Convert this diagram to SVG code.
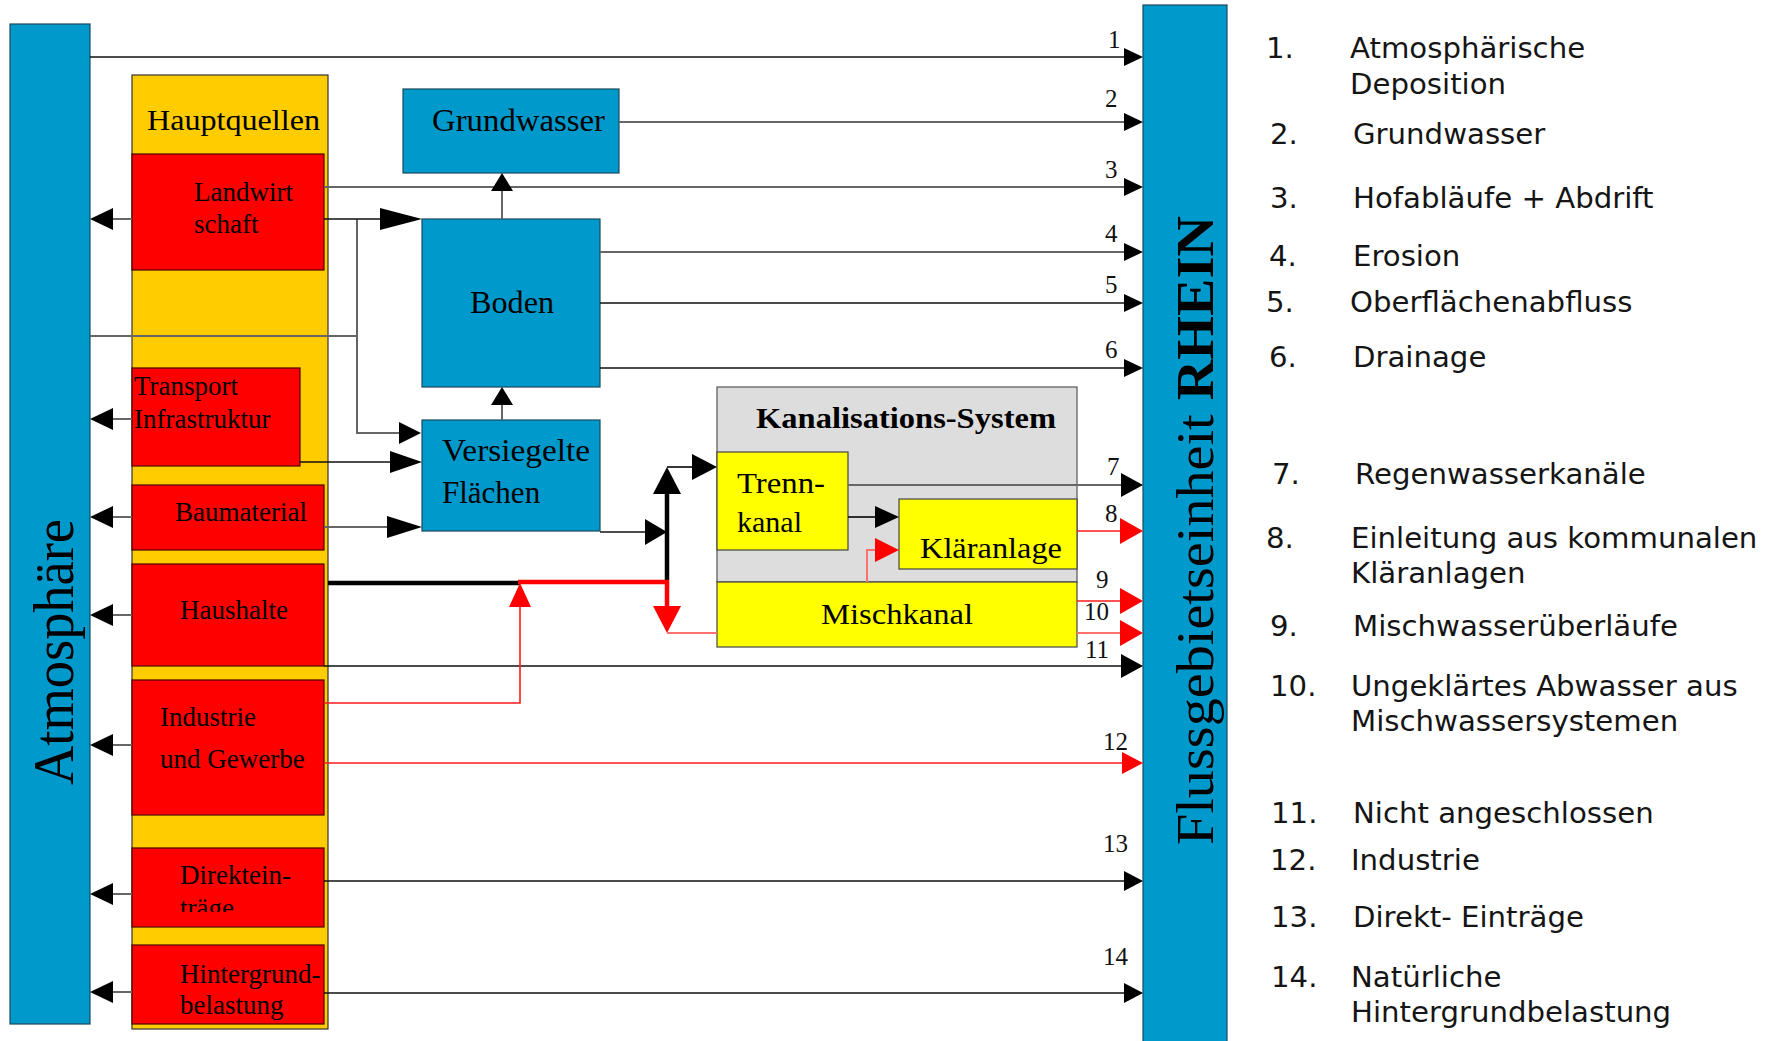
<svg xmlns="http://www.w3.org/2000/svg" width="1771" height="1041" viewBox="0 0 1771 1041">
<style>
.blue{fill:#0099CC;stroke:#1a4a5a;stroke-width:1.2}
.red{fill:#FF0000;stroke:#4a0000;stroke-width:1.2}
.gold{fill:#FFCC00;stroke:#333;stroke-width:1.2}
.yel{fill:#FFFF00;stroke:#444;stroke-width:1.2}
.gray{fill:#DDDDDD;stroke:#555;stroke-width:1.2}
.t{font-family:"Liberation Serif","Times New Roman",serif;fill:#000}
.s27{font-size:27px}
.s30{font-size:30px}
.s31{font-size:31px}
.num{font-family:"Liberation Serif","Times New Roman",serif;font-size:25px;fill:#111}
.lg{font-family:"DejaVu Sans",Verdana,sans-serif;font-size:29.2px;fill:#151515}
.ln{fill:none;stroke:#111;stroke-width:1.7}
.lg2{fill:none;stroke:#666;stroke-width:2}
.lr{fill:none;stroke:#FF1A1A;stroke-width:1.6}
.lr2{fill:none;stroke:#FF7070;stroke-width:2}
.thk{fill:none;stroke:#000;stroke-width:4.5}
.thr{fill:none;stroke:#FF0000;stroke-width:4.5}
.ah{fill:#000}
.ahr{fill:#FF0000}
</style>
<defs>
<clipPath id="clipDir"><rect x="132" y="848" width="192" height="64"/></clipPath>
</defs>
<rect width="1771" height="1041" fill="#fff"/>

<g id="atmosphaere">
<rect class="blue" x="10" y="24" width="80" height="1000"/>
<text class="t" font-size="56" transform="translate(73,785) rotate(-90)" textLength="266" lengthAdjust="spacingAndGlyphs">Atmosphäre</text>
</g>

<g id="rhein">
<rect class="blue" x="1143" y="5" width="84" height="1040"/>
<text class="t" font-size="52" transform="translate(1213,845) rotate(-90)" textLength="629" lengthAdjust="spacingAndGlyphs">Flussgebietseinheit <tspan font-weight="bold">RHEIN</tspan></text>
</g>

<g id="hauptquellen">
<rect class="gold" x="132" y="75" width="196" height="954"/>
<text class="t s30" x="147" y="130" textLength="173" lengthAdjust="spacingAndGlyphs">Hauptquellen</text>
</g>

<g id="landwirtschaft">
<rect class="red" x="132" y="154" width="192" height="116"/>
<text class="t s27" x="194" y="201">Landwirt</text>
<text class="t s27" x="194" y="233">schaft</text>
</g>

<g id="transport">
<rect class="red" x="132" y="368" width="168" height="98"/>
<text class="t s27" x="134" y="395">Transport</text>
<text class="t s27" x="134" y="428">Infrastruktur</text>
</g>

<g id="baumaterial">
<rect class="red" x="132" y="485" width="192" height="65"/>
<text class="t s27" x="175" y="521">Baumaterial</text>
</g>

<g id="haushalte">
<rect class="red" x="132" y="564" width="192" height="102"/>
<text class="t s27" x="180" y="619">Haushalte</text>
</g>

<g id="industrie">
<rect class="red" x="132" y="680" width="192" height="135"/>
<text class="t s27" x="160" y="726">Industrie</text>
<text class="t s27" x="160" y="768">und Gewerbe</text>
</g>

<g id="direkteintraege">
<rect class="red" x="132" y="848" width="192" height="79"/>
<text class="t s27" x="180" y="884">Direktein-</text>
<text class="t s27" x="180" y="917" clip-path="url(#clipDir)">träge</text>
</g>

<g id="hintergrund">
<rect class="red" x="132" y="945" width="192" height="79"/>
<text class="t s27" x="180" y="983">Hintergrund-</text>
<text class="t s27" x="180" y="1014">belastung</text>
</g>

<g id="grundwasser">
<rect class="blue" x="403" y="89" width="216" height="84"/>
<text class="t s31" x="432" y="131" textLength="173" lengthAdjust="spacingAndGlyphs">Grundwasser</text>
</g>

<g id="boden">
<rect class="blue" x="422" y="219" width="178" height="168"/>
<text class="t s31" x="470" y="313" textLength="84" lengthAdjust="spacingAndGlyphs">Boden</text>
</g>

<g id="versiegelte">
<rect class="blue" x="422" y="420" width="178" height="111"/>
<text class="t s31" x="442" y="461" textLength="148" lengthAdjust="spacingAndGlyphs">Versiegelte</text>
<text class="t s31" x="442" y="503">Flächen</text>
</g>

<g id="kanalisation">
<rect class="gray" x="717" y="387" width="360" height="195"/>
<text class="t s30" font-weight="bold" x="756" y="428" textLength="300" lengthAdjust="spacingAndGlyphs">Kanalisations-System</text>
</g>

<g id="trennkanal">
<rect class="yel" x="717" y="452" width="131" height="98"/>
<text class="t s30" x="737" y="493" textLength="88" lengthAdjust="spacingAndGlyphs">Trenn-</text>
<text class="t s30" x="737" y="532">kanal</text>
</g>

<g id="klaeranlage">
<rect class="yel" x="899" y="499" width="178" height="70"/>
<text class="t s30" x="920" y="558" textLength="142" lengthAdjust="spacingAndGlyphs">Kläranlage</text>
</g>

<g id="mischkanal">
<rect class="yel" x="717" y="582" width="360" height="65"/>
<text class="t s30" x="821" y="624" textLength="152" lengthAdjust="spacingAndGlyphs">Mischkanal</text>
</g>

<g id="connectors">
<path class="lg2" d="M113,219H132M113,419H132M113,517H132M113,615H132M113,745H132M113,894H132M113,992H132"/>
<polygon class="ah" points="90,219 113,208 113,230"/>
<polygon class="ah" points="90,419 113,408 113,430"/>
<polygon class="ah" points="90,517 113,506 113,528"/>
<polygon class="ah" points="90,615 113,604 113,626"/>
<polygon class="ah" points="90,745 113,734 113,756"/>
<polygon class="ah" points="90,894 113,883 113,905"/>
<polygon class="ah" points="90,992 113,981 113,1003"/>

<path class="ln" d="M90,57H1124"/>
<path class="lg2" d="M619,122H1124M324,187H1124M600,252H1124"/>
<path class="ln" d="M600,303H1124M600,368H1124"/>
<polygon class="ah" points="1143,57 1124,48 1124,66"/>
<polygon class="ah" points="1143,122 1124,113 1124,131"/>
<polygon class="ah" points="1143,187 1124,178 1124,196"/>
<polygon class="ah" points="1143,252 1124,243 1124,261"/>
<polygon class="ah" points="1143,303 1124,294 1124,312"/>
<polygon class="ah" points="1143,368 1124,359 1124,377"/>

<path class="lg2" d="M848,485H1121"/>
<polygon class="ah" points="1143,485 1121,473 1121,497"/>
<path class="lr" d="M1077,531H1121M1077,601H1121"/>
<path class="lr2" d="M1077,633H1121"/>
<polygon class="ahr" points="1143,531 1120,518 1120,544"/>
<polygon class="ahr" points="1143,601 1120,588 1120,614"/>
<polygon class="ahr" points="1143,633 1120,620 1120,646"/>
<path class="ln" d="M324,666H1121"/>
<polygon class="ah" points="1143,666 1121,654 1121,678"/>

<path class="lr" d="M324,763H1122"/>
<polygon class="ahr" points="1143,763 1122,752 1122,774"/>
<path class="ln" d="M324,881H1124M324,993H1124"/>
<polygon class="ah" points="1143,881 1124,871 1124,891"/>
<polygon class="ah" points="1143,993 1124,983 1124,1003"/>

<path class="lg2" d="M90,336H357"/>
<path class="lg2" d="M357,219V433H399"/>
<polygon class="ah" points="421,433 399,422 399,444"/>
<path class="ln" d="M324,219H380"/>
<polygon class="ah" points="422,219 380,208 380,230"/>
<path class="lg2" d="M502,219V191"/>
<polygon class="ah" points="502,173 491,191 513,191"/>
<path class="lg2" d="M502,420V405"/>
<polygon class="ah" points="502,387 491,405 513,405"/>
<path class="ln" d="M300,462H390"/>
<polygon class="ah" points="422,462 390,451 390,473"/>
<path class="lg2" d="M324,527H387"/>
<polygon class="ah" points="422,527 387,516 387,538"/>
<path class="ln" d="M600,532H645"/>
<polygon class="ah" points="667,532 645,519 645,545"/>
<path class="thk" d="M667,580V494"/>
<polygon class="ah" points="667,467 653,494 681,494"/>
<path class="ln" d="M667,467H692"/>
<polygon class="ah" points="717,467 692,454 692,480"/>
<path class="ln" d="M848,517H875"/>
<polygon class="ah" points="899,517 875,506 875,528"/>
<path class="lr2" d="M867,582V550H875"/>
<polygon class="ahr" points="899,550 875,538 875,562"/>
<path class="thk" d="M328,583H520"/>
<path class="thr" d="M518,582H667V606"/>
<polygon class="ahr" points="667,633 653,606 681,606"/>
<path class="lr2" d="M667,633H717"/>
<path class="lr" d="M324,703H520V607"/>
<polygon class="ahr" points="520,583 509,607 531,607"/>
</g>

<g id="flow-numbers">
<text class="num" x="1108" y="48">1</text>
<text class="num" x="1105" y="107">2</text>
<text class="num" x="1105" y="178">3</text>
<text class="num" x="1105" y="242">4</text>
<text class="num" x="1105" y="293">5</text>
<text class="num" x="1105" y="358">6</text>
<text class="num" x="1107" y="475">7</text>
<text class="num" x="1105" y="522">8</text>
<text class="num" x="1096" y="588">9</text>
<text class="num" x="1084" y="620">10</text>
<text class="num" x="1085" y="658">11</text>
<text class="num" x="1103" y="750">12</text>
<text class="num" x="1103" y="852">13</text>
<text class="num" x="1103" y="965">14</text>
</g>

<g id="legend">
<text class="lg" x="1266" y="58">1.</text><text class="lg" x="1350" y="58">Atmosphärische</text>
<text class="lg" x="1350" y="94">Deposition</text>
<text class="lg" x="1270" y="144">2.</text><text class="lg" x="1353" y="144">Grundwasser</text>
<text class="lg" x="1270" y="208">3.</text><text class="lg" x="1353" y="208">Hofabläufe + Abdrift</text>
<text class="lg" x="1269" y="266">4.</text><text class="lg" x="1353" y="266">Erosion</text>
<text class="lg" x="1266" y="312">5.</text><text class="lg" x="1350" y="312">Oberflächenabfluss</text>
<text class="lg" x="1269" y="367">6.</text><text class="lg" x="1353" y="367">Drainage</text>
<text class="lg" x="1272" y="484">7.</text><text class="lg" x="1355" y="484">Regenwasserkanäle</text>
<text class="lg" x="1266" y="548">8.</text><text class="lg" x="1351" y="548">Einleitung aus kommunalen</text>
<text class="lg" x="1351" y="583">Kläranlagen</text>
<text class="lg" x="1270" y="636">9.</text><text class="lg" x="1353" y="636">Mischwasserüberläufe</text>
<text class="lg" x="1270" y="696">10.</text><text class="lg" x="1351" y="696">Ungeklärtes Abwasser aus</text>
<text class="lg" x="1351" y="731">Mischwassersystemen</text>
<text class="lg" x="1271" y="823">11.</text><text class="lg" x="1353" y="823">Nicht angeschlossen</text>
<text class="lg" x="1270" y="870">12.</text><text class="lg" x="1351" y="870">Industrie</text>
<text class="lg" x="1271" y="927">13.</text><text class="lg" x="1353" y="927">Direkt- Einträge</text>
<text class="lg" x="1271" y="987">14.</text><text class="lg" x="1351" y="987">Natürliche</text>
<text class="lg" x="1351" y="1022">Hintergrundbelastung</text>
</g>
</svg>
